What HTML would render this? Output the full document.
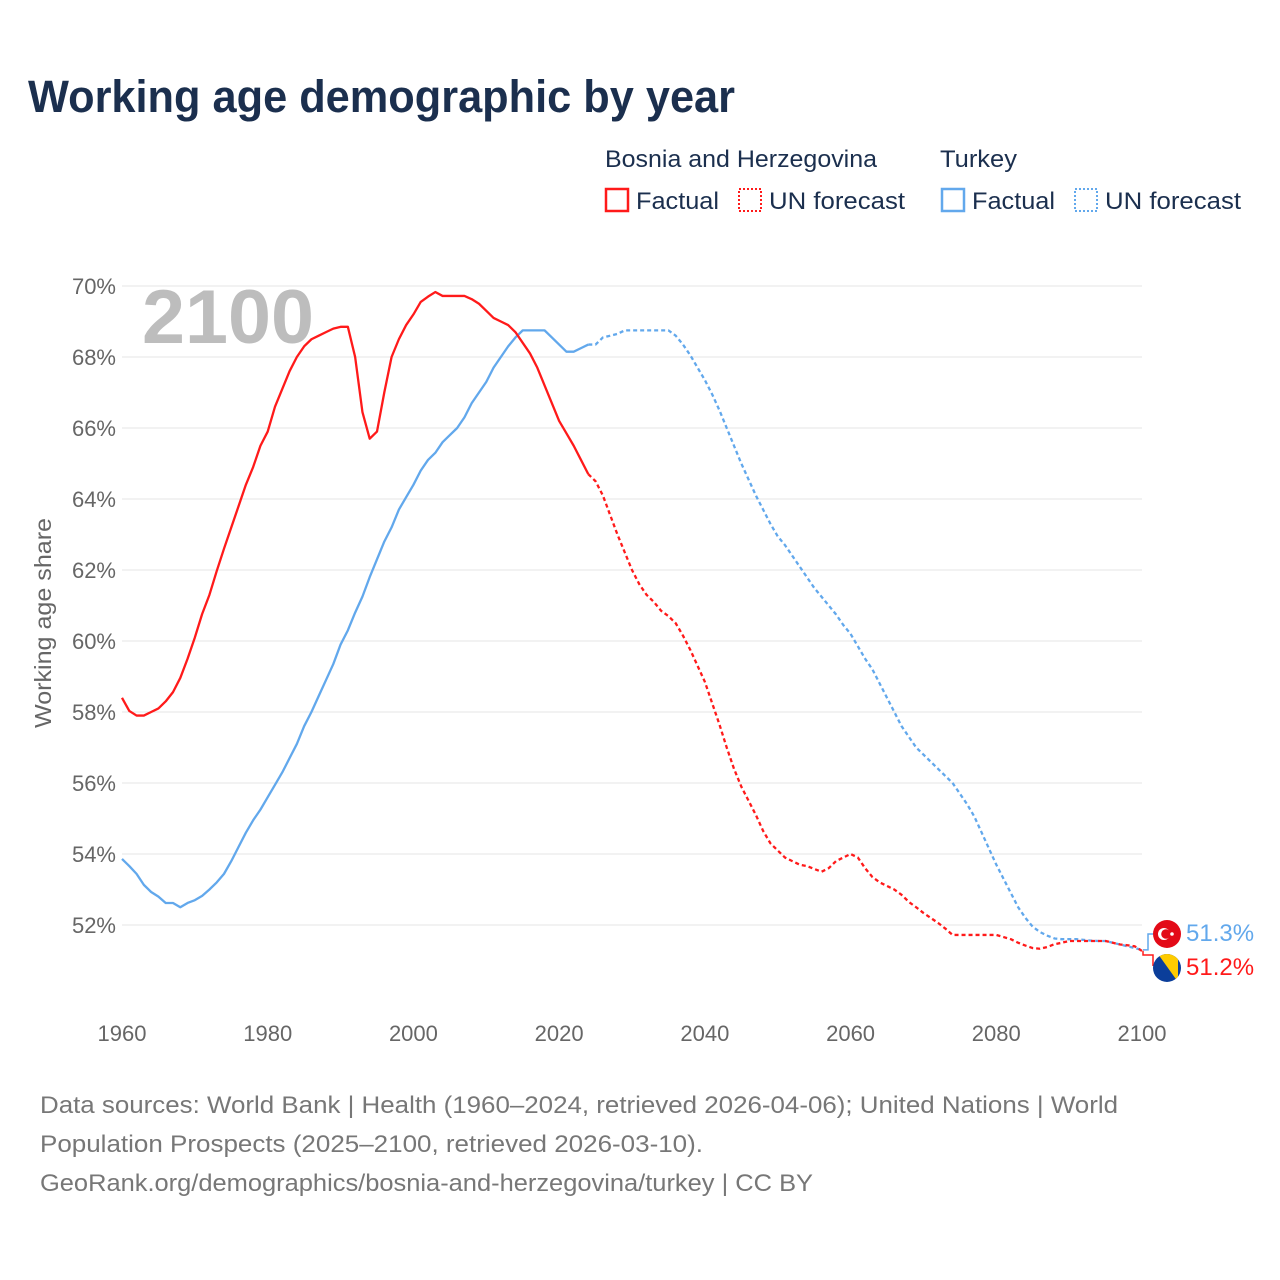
<!DOCTYPE html>
<html><head><meta charset="utf-8">
<style>
body{margin:0;background:#fff;font-family:"Liberation Sans",sans-serif;}
#wrap{position:relative;width:1280px;height:1280px;overflow:hidden;}
</style></head>
<body>
<div id="wrap">
<svg id="chart" width="1280" height="1280" font-family="Liberation Sans, sans-serif"></svg>
</div>
<script>
const years=[];for(let y=1960;y<=2100;y++)years.push(y);
const bihFactual=[58.4,58.03,57.9,57.9,58.0,58.1,58.3,58.56,58.96,59.5,60.1,60.76,61.3,61.97,62.6,63.2,63.8,64.4,64.9,65.5,65.9,66.6,67.1,67.6,68.0,68.3,68.5,68.6,68.7,68.8,68.85,68.85,68.0,66.45,65.7,65.9,67.0,68.0,68.5,68.9,69.2,69.55,69.7,69.83,69.72,69.72,69.72,69.72,69.63,69.5,69.3,69.1,69.0,68.9,68.7,68.4,68.1,67.7,67.2,66.7,66.2,65.85,65.5,65.1,64.7];
const bihForecast=[64.5,64.1,63.55,63.0,62.5,62.0,61.6,61.3,61.1,60.85,60.7,60.5,60.15,59.75,59.3,58.85,58.25,57.65,57.0,56.4,55.9,55.5,55.1,54.65,54.3,54.1,53.9,53.8,53.7,53.66,53.58,53.5,53.6,53.8,53.9,54.0,53.9,53.6,53.35,53.2,53.1,53.0,52.85,52.65,52.5,52.34,52.2,52.06,51.9,51.72,51.72,51.72,51.72,51.72,51.72,51.72,51.66,51.6,51.5,51.42,51.35,51.33,51.38,51.46,51.5,51.55,51.55,51.55,51.55,51.55,51.55,51.5,51.45,51.43,51.4,51.27];
const turFactual=[53.86,53.66,53.44,53.13,52.93,52.8,52.62,52.62,52.5,52.62,52.7,52.82,53.0,53.2,53.44,53.8,54.2,54.6,54.95,55.25,55.6,55.95,56.3,56.7,57.1,57.6,58.0,58.45,58.9,59.35,59.9,60.3,60.8,61.25,61.8,62.3,62.8,63.2,63.7,64.05,64.4,64.8,65.1,65.3,65.6,65.8,66.0,66.3,66.7,67.0,67.3,67.7,68.0,68.3,68.55,68.75,68.75,68.75,68.75,68.55,68.35,68.15,68.15,68.25,68.35];
const turForecast=[68.35,68.55,68.6,68.65,68.75,68.75,68.75,68.75,68.75,68.75,68.75,68.6,68.35,68.05,67.7,67.35,66.95,66.5,66.0,65.5,65.0,64.55,64.1,63.7,63.3,62.95,62.7,62.4,62.1,61.8,61.5,61.25,61.0,60.75,60.45,60.2,59.85,59.5,59.2,58.8,58.4,58.0,57.6,57.3,57.0,56.8,56.6,56.4,56.2,56.0,55.7,55.4,55.05,54.6,54.15,53.7,53.3,52.9,52.5,52.2,51.95,51.8,51.7,51.62,51.6,51.6,51.6,51.58,51.56,51.55,51.55,51.5,51.45,51.4,51.35,51.3];
const yTicks=[52,54,56,58,60,62,64,66,68,70];
const xTicks=[1960,1980,2000,2020,2040,2060,2080,2100];

const svg=document.getElementById('chart');const NS='http://www.w3.org/2000/svg';
const X=y=>122+(y-1960)*(1020/140);
const Y=v=>286+(70-v)*35.5;
function el(tag,attrs,parent){const e=document.createElementNS(NS,tag);for(const k in attrs)e.setAttribute(k,attrs[k]);(parent||svg).appendChild(e);return e;}
function txt(s,attrs,name){const t=el('text',attrs);t.textContent=s;

return t;}

txt('Working age demographic by year',{x:28,y:112,'font-size':45,'font-weight':'bold',fill:'#1b2f4e',textLength:707,lengthAdjust:'spacingAndGlyphs'},'chart-title');
// legend
txt('Bosnia and Herzegovina',{x:605,y:167,'font-size':24,fill:'#1b2f4e',textLength:272,lengthAdjust:'spacingAndGlyphs'},'legend-group-bosnia');
txt('Turkey',{x:940,y:167,'font-size':24,fill:'#1b2f4e',textLength:77,lengthAdjust:'spacingAndGlyphs'},'legend-group-turkey');
const leg=[[605,'#ff1a1a',false,'Factual','legend-bosnia-factual',83],[738,'#ff1a1a',true,'UN forecast','legend-bosnia-forecast',136],[941,'#62a8ec',false,'Factual','legend-turkey-factual',83],[1074,'#62a8ec',true,'UN forecast','legend-turkey-forecast',136]];
leg.forEach(l=>{const r=el('rect',{x:l[0]+1,y:189,width:22,height:22,fill:'none',stroke:l[1],'stroke-width':l[2]?2:2.5,'stroke-dasharray':l[2]?'2 2':'none'});


txt(l[3],{x:l[0]+31,y:209,'font-size':24,fill:'#1b2f4e',textLength:l[5],lengthAdjust:'spacingAndGlyphs'},l[4]);});

// grid
yTicks.forEach(v=>{const g=el('line',{x1:122,x2:1142,y1:Y(v),y2:Y(v),stroke:'#e4e4e4','stroke-width':1});


txt(v+'%',{x:116,y:Y(v)+8,'font-size':22,fill:'#666','text-anchor':'end'},'y-tick-'+v);});
xTicks.forEach(y=>txt(String(y),{x:X(y),y:1041,'font-size':22,fill:'#666','text-anchor':'middle'},'x-tick-'+y));
txt('Working age share',{x:0,y:0,'font-size':23,fill:'#666','text-anchor':'middle',transform:'translate(51,623) rotate(-90)',textLength:210,lengthAdjust:'spacingAndGlyphs'},'y-axis-title');
txt('2100',{x:142,y:343,'font-size':76,'font-weight':'bold',fill:'#bdbdbd',textLength:172,lengthAdjust:'spacingAndGlyphs'},'year-watermark');

function path(vals,startYear,color,dash,name){let d='';vals.forEach((v,i)=>{d+=(i?'L':'M')+X(startYear+i).toFixed(2)+','+Y(v).toFixed(2);});
const p=el('path',{d:d,fill:'none',stroke:color,'stroke-width':2.3,'stroke-dasharray':dash,'stroke-linejoin':'round'});

}
path(turFactual,1960,'#62a8ec','none','turkey-factual-line');
path([turFactual[turFactual.length-1]].concat(turForecast),2024,'#62a8ec','4 3','turkey-forecast-line');
path(bihFactual,1960,'#ff1a1a','none','bosnia-factual-line');
path([bihFactual[bihFactual.length-1]].concat(bihForecast),2024,'#ff1a1a','4 3','bosnia-forecast-line');

// end labels
const ty=Y(turForecast[turForecast.length-1]),by=Y(bihForecast[bihForecast.length-1]);
el('path',{d:`M1143,${ty} L1148,${ty} L1148,934 L1153,934`,fill:'none',stroke:'#62a8ec','stroke-width':1.5});
el('path',{d:`M1143,${by} L1143,955 L1153,955 L1153,966`,fill:'none',stroke:'#ff1a1a','stroke-width':1.5});
const tf=el('g',{});
el('circle',{cx:1167,cy:934,r:14,fill:'#e30a17'},tf);
el('circle',{cx:1164,cy:934,r:6,fill:'#fff'},tf);
el('circle',{cx:1166,cy:934,r:4.8,fill:'#e30a17'},tf);
el('circle',{cx:1172,cy:934,r:1.8,fill:'#fff'},tf);
const bf=el('g',{});
el('clipPath',{id:'bc'},bf);el('circle',{cx:1167,cy:968,r:14},document.getElementById('bc'));
const bg=el('g',{'clip-path':'url(#bc)'},bf);
el('rect',{x:1153,y:954,width:28,height:28,fill:'#0b3e9a'},bg);
el('polygon',{points:'1158,954 1178,954 1178,982',fill:'#fecb00'},bg);
txt('51.3%',{x:1186,y:941,'font-size':24,fill:'#62a8ec'},'turkey-end-value');
txt('51.2%',{x:1186,y:975,'font-size':24,fill:'#ff1a1a'},'bosnia-end-value');

// footer
txt('Data sources: World Bank | Health (1960–2024, retrieved 2026-04-06); United Nations | World',{x:40,y:1113,'font-size':24,fill:'#777',textLength:1078,lengthAdjust:'spacingAndGlyphs'},'source-line-1');
txt('Population Prospects (2025–2100, retrieved 2026-03-10).',{x:40,y:1152,'font-size':24,fill:'#777',textLength:663,lengthAdjust:'spacingAndGlyphs'},'source-line-2');
txt('GeoRank.org/demographics/bosnia-and-herzegovina/turkey | CC BY',{x:40,y:1191,'font-size':24,fill:'#777',textLength:773,lengthAdjust:'spacingAndGlyphs'},'source-link');
</script>
</body></html>
